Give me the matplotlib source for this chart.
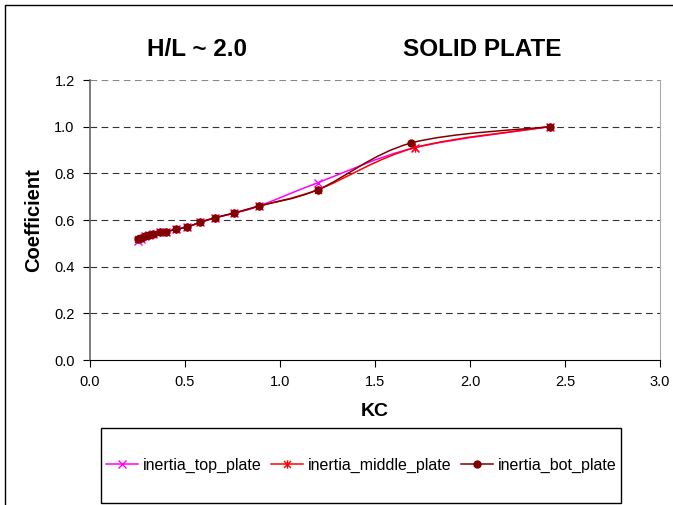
import numpy as np
import matplotlib
matplotlib.use("Agg")
import matplotlib.pyplot as plt
from matplotlib.path import Path
from matplotlib.patches import PathPatch, Rectangle
from matplotlib.lines import Line2D

plt.rcParams['font.family'] = ['Liberation Sans', 'DejaVu Sans']

# data
kc_top = [0.25, 0.27, 0.29, 0.31, 0.33, 0.37, 0.40, 0.45, 0.51, 0.58, 0.66, 0.76, 0.89, 1.20, 1.71, 2.42]
top_plate = [0.51, 0.52, 0.53, 0.535, 0.54, 0.55, 0.55, 0.56, 0.57, 0.59, 0.61, 0.63, 0.66, 0.76, 0.91, 1.00]

kc_mid = [0.25, 0.27, 0.29, 0.31, 0.33, 0.37, 0.40, 0.45, 0.51, 0.58, 0.66, 0.76, 0.89, 1.20, 1.71, 2.42]
middle_plate = [0.52, 0.525, 0.53, 0.535, 0.54, 0.55, 0.55, 0.56, 0.57, 0.59, 0.61, 0.63, 0.66, 0.73, 0.91, 1.00]

kc_bot = [0.25, 0.27, 0.29, 0.31, 0.33, 0.37, 0.40, 0.45, 0.51, 0.58, 0.66, 0.76, 0.89, 1.20, 1.69, 2.42]
bot_plate = [0.52, 0.525, 0.53, 0.535, 0.54, 0.55, 0.55, 0.56, 0.57, 0.59, 0.61, 0.63, 0.66, 0.73, 0.93, 1.00]

series_names = ["inertia_top_plate", "inertia_middle_plate", "inertia_bot_plate"]
colors = ["#FF00FF", "#FF0000", "#800000"]

# excel style asterisk: an x with a vertical bar through it
star = Path([(-1, -1), (1, 1), (-1, 1), (1, -1), (0, -1.2), (0, 1.2)],
            [Path.MOVETO, Path.LINETO, Path.MOVETO, Path.LINETO, Path.MOVETO, Path.LINETO])
markers = ["x", star, "o"]


def smooth_path(x, y):
    # excel style smoothed line: cubic bezier through the points
    p = np.column_stack([x, y]).astype(float)
    n = len(p)
    verts = [p[0]]
    codes = [Path.MOVETO]
    for i in range(n - 1):
        p0 = p[i - 1] if i > 0 else p[i]
        p3 = p[i + 2] if i + 2 < n else p[i + 1]
        c1 = p[i] + (p[i + 1] - p0) / 6.0
        c2 = p[i + 1] - (p3 - p[i]) / 6.0
        verts += [c1, c2, p[i + 1]]
        codes += [Path.CURVE4] * 3
    return Path(verts, codes)


fig = plt.figure(figsize=(6.73, 5.05), dpi=100)
ax = fig.add_axes([90 / 673, 1 - 360 / 505, 570 / 673, 280 / 505])

xs = [kc_top, kc_mid, kc_bot]
ys = [top_plate, middle_plate, bot_plate]
handles = []
for x, y, c, m, name in zip(xs, ys, colors, markers, series_names):
    ax.add_patch(PathPatch(smooth_path(x, y), facecolor="none", edgecolor=c, lw=1.1, zorder=3))
    ms = 5 if isinstance(m, str) and m == "o" else 6
    ax.plot(x, y, ls="none", marker=m, color=c, ms=ms, mew=1.0, zorder=4)
    handles.append(Line2D([], [], color=c, marker=m, ms=ms, mew=1.0, lw=1.1, label=name))

ax.set_xlim(0, 3.0)
ax.set_ylim(0, 1.2)
ax.set_xticks(np.arange(0, 3.01, 0.5))
ax.set_yticks(np.arange(0, 1.21, 0.2))
ax.set_xticklabels([f"{v:.1f}" for v in np.arange(0, 3.01, 0.5)])
ax.set_yticklabels([f"{v:.1f}" for v in np.arange(0, 1.21, 0.2)])
ax.tick_params(direction="out", length=5, width=0.8, labelsize=10.5, pad=6)

for v in np.arange(0.2, 1.21, 0.2):
    ax.axhline(v, color="#333333" if v < 1.1 else "#888888", lw=0.8, ls=(0, (6, 4)), zorder=1)

ax.spines["top"].set_visible(False)
ax.spines["left"].set_color("#666666")
ax.spines["left"].set_linewidth(1.2)
ax.spines["bottom"].set_color("black")
ax.spines["right"].set_color("#aaaaaa")

ax.set_xlabel("KC", fontsize=14, fontweight="bold", labelpad=10)
ax.set_ylabel("Coefficient", fontsize=14.5, fontweight="bold", labelpad=8)

fig.text(197 / 673, 1 - 50 / 505, "H/L ~ 2.0", fontsize=17.5, fontweight="bold", ha="center", va="center")
fig.text(482 / 673, 1 - 50 / 505, "SOLID PLATE", fontsize=17.5, fontweight="bold", ha="center", va="center")

# legend box
fig.patches.append(Rectangle((101 / 673, 1 - 503 / 505), 520 / 673, 75 / 505,
                             transform=fig.transFigure, facecolor="white", edgecolor="black", lw=1))
fig.legend(handles=handles, loc="center", bbox_to_anchor=(361 / 673, 1 - 465 / 505), ncol=3,
           frameon=False, fontsize=11.5, handlelength=2.0, handletextpad=0.3, columnspacing=0.6)

# outer chart border
fig.add_artist(Line2D([4.5 / 673, 4.5 / 673, 1], [0, 1 - 5 / 505, 1 - 5 / 505],
                      transform=fig.transFigure, color="black", lw=1))

fig.savefig("out.png", dpi=100)
